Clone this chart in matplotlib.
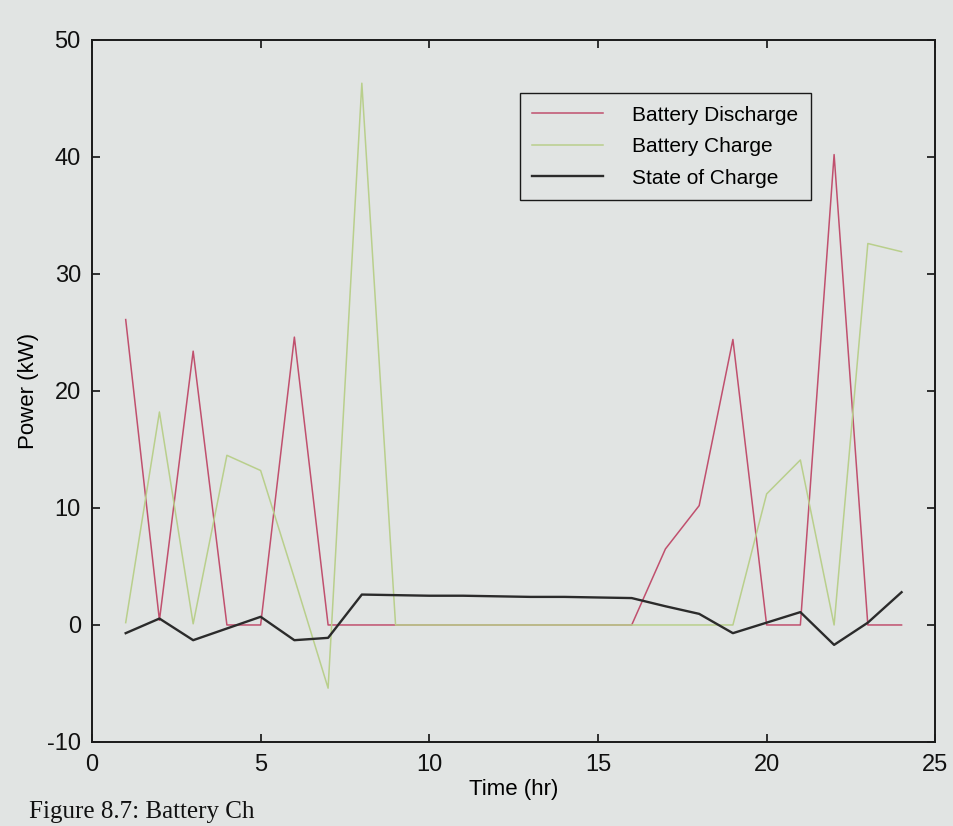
import numpy as np
import matplotlib
matplotlib.use("Agg")
import matplotlib.pyplot as plt

# hourly data
hours = list(range(1, 25))
discharge = [26.1, 0.4, 23.4, 0, 0, 24.6, 0, 0, 0, 0, 0, 0,
             0, 0, 0, 0, 6.5, 10.2, 24.4, 0, 0, 40.2, 0, 0]
charge = [0.2, 18.2, 0.1, 14.5, 13.2, 4.0, -5.4, 46.3, 0, 0, 0, 0,
          0, 0, 0, 0, 0, 0, 0, 11.2, 14.1, 0, 32.6, 31.9]
soc = [-0.7, 0.55, -1.3, -0.3, 0.7, -1.3, -1.1, 2.6, 2.55, 2.5, 2.5, 2.45,
       2.4, 2.4, 2.35, 2.3, 1.6, 0.95, -0.7, 0.2, 1.1, -1.7, 0.2, 2.8]

x_ticks = [0, 5, 10, 15, 20, 25]
y_ticks = [-10, 0, 10, 20, 30, 40, 50]

bg = '#e1e4e3'
plt.rcParams['font.family'] = ['Liberation Sans', 'DejaVu Sans']
plt.rcParams['axes.unicode_minus'] = False

fig = plt.figure(figsize=(9.54, 8.26), dpi=100, facecolor=bg)
ax = fig.add_axes([0.0964, 0.1017, 0.884, 0.85], facecolor=bg)

ax.plot(hours, discharge, color='#c0506e', lw=1.1, label='Battery Discharge')
ax.plot(hours, charge, color='#b9cf8c', lw=1.1, label='Battery Charge')
ax.plot(hours, soc, color='#2b2b2b', lw=1.7, label='State of Charge')

ax.set_xlim(0, 25)
ax.set_ylim(-10, 50)
ax.set_xticks(x_ticks)
ax.set_yticks(y_ticks)
ax.tick_params(direction='in', length=6, width=1.2, top=True, right=True,
               labelsize=17, colors='#111111')
ax.tick_params(axis='x', pad=9)
ax.tick_params(axis='y', pad=8)
for s in ax.spines.values():
    s.set_linewidth(1.4)
    s.set_color('#1a1a1a')

ax.set_xlabel('Time (hr)', fontsize=16, labelpad=2)
ax.set_ylabel('Power (kW)', fontsize=16, labelpad=6)

leg = ax.legend(loc='upper left', bbox_to_anchor=(0.534, 0.9),
                bbox_transform=fig.transFigure, fontsize=15,
                handlelength=3.4, handletextpad=1.4, labelspacing=0.6,
                fancybox=False, framealpha=1, facecolor=bg,
                edgecolor='#1a1a1a', borderpad=0.6)
leg.get_frame().set_linewidth(1.0)

# figure caption at the bottom of the scanned page
fig.text(0.03, 0.004, 'Figure 8.7: Battery Ch', fontsize=18,
         family=['Liberation Serif', 'DejaVu Serif'], va='bottom', color='#111111')

fig.savefig('out.png', dpi=100, facecolor=bg)
